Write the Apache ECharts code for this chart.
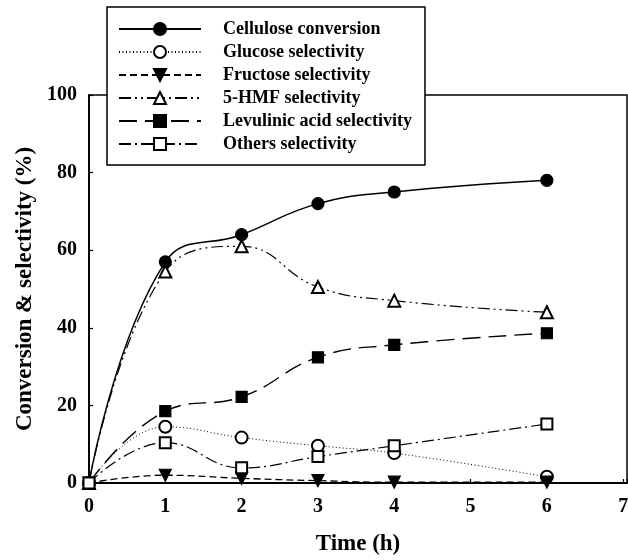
<!DOCTYPE html>
<html>
<head>
<meta charset="utf-8">
<script src="https://cdn.jsdelivr.net/npm/echarts@6/dist/echarts.min.js"></script>
<style>
  html, body { margin: 0; padding: 0; background: #fff; }
  #chart { width: 628px; height: 560px; }
</style>
</head>
<body>
<div id="chart"></div>
<script>
  // 时间 (h)
  var hours = [0, 1, 2, 3, 4, 6]
  var cellulose = [0, 57, 64, 72, 75, 78]
  var glucose = [0, 14.5, 11.7, 9.6, 7.7, 1.6]
  var fructose = [0, 2, 1.2, 0.6, 0.2, 0.2]
  var hmf = [0, 54.5, 61, 50.5, 47, 44]
  var levulinic = [0, 18.5, 22.2, 32.4, 35.6, 38.6]
  var others = [0, 10.4, 3.9, 6.8, 9.6, 15.2]
  var names = ['Cellulose conversion', 'Glucose selectivity', 'Fructose selectivity',
               '5-HMF selectivity', 'Levulinic acid selectivity', 'Others selectivity']

  var font = 'Liberation Serif'
  var downTri = 'path://M0,0 L10,0 L5,9 Z'

  function pairs (ys) {
    return hours.map(function (h, i) { return [h, ys[i]] })
  }

  function mkSeries (name, ys, symbol, size, dash, width) {
    return {
      name: name,
      type: 'line',
      data: pairs(ys),
      smooth: 0.45,
      symbol: symbol,
      symbolSize: size,
      showAllSymbol: true,
      itemStyle: { color: '#000', borderColor: '#000', borderWidth: 1.2 },
      lineStyle: { color: '#000', width: width, type: dash },
      emphasis: { disabled: true },
      z: 3
    }
  }

  var chart = echarts.init(document.getElementById('chart'))
  chart.setOption({
    animation: false,
    backgroundColor: '#fff',
    grid: {
      left: 89, top: 95, width: 538, height: 388,
      outerBoundsMode: 'none',
      show: true, borderColor: '#000', borderWidth: 1.5, backgroundColor: 'transparent'
    },
    legend: {
      orient: 'vertical',
      left: 107, top: 7,
      data: names,
      itemWidth: 82,
      itemHeight: 15,
      itemGap: 5,
      padding: [13, 13, 12, 11],
      backgroundColor: '#fff',
      borderColor: '#000',
      borderWidth: 1.5,
      borderRadius: 0,
      textStyle: { fontFamily: font, fontWeight: 'bold', fontSize: 18, color: '#000', padding: [0, 0, 0, 17] },
      z: 10
    },
    xAxis: {
      type: 'value',
      min: 0, max: 7.05, interval: 1,
      name: 'Time (h)',
      nameLocation: 'middle',
      nameGap: 50,
      nameTextStyle: { fontFamily: font, fontWeight: 'bold', fontSize: 23, color: '#000' },
      axisLine: { show: true, lineStyle: { color: '#000', width: 1.8 } },
      axisTick: { show: true, inside: true, length: 4, lineStyle: { color: '#000', width: 1.2 } },
      axisLabel: {
        margin: 14, fontFamily: font, fontWeight: 'bold', fontSize: 20, color: '#000',
        formatter: function (v) { return Number.isInteger(v) ? String(v) : '' }
      },
      splitLine: { show: false }
    },
    yAxis: {
      type: 'value',
      min: 0, max: 100, interval: 20,
      name: 'Conversion & selectivity (%)',
      nameLocation: 'middle',
      nameGap: 50,
      nameTextStyle: { fontFamily: font, fontWeight: 'bold', fontSize: 23, color: '#000' },
      axisLine: { show: true, lineStyle: { color: '#000', width: 1.8 } },
      axisTick: { show: true, inside: true, length: 4, lineStyle: { color: '#000', width: 1.2 } },
      axisLabel: { margin: 12, fontFamily: font, fontWeight: 'bold', fontSize: 20, color: '#000' },
      splitLine: { show: false }
    },
    series: [
      mkSeries(names[0], cellulose, 'circle', 12, 'solid', 1.5),
      mkSeries(names[1], glucose, 'emptyCircle', 12, [1, 2.5], 1),
      mkSeries(names[2], fructose, downTri, 12, [7, 4], 1.3),
      mkSeries(names[3], hmf, 'emptyTriangle', 12, [12, 4, 2, 4, 2, 4], 1.2),
      mkSeries(names[4], levulinic, 'rect', 11, [18, 8], 1.4),
      mkSeries(names[5], others, 'emptyRect', 11, [12, 4, 2, 4], 1.2)
    ]
  })
</script>
</body>
</html>
